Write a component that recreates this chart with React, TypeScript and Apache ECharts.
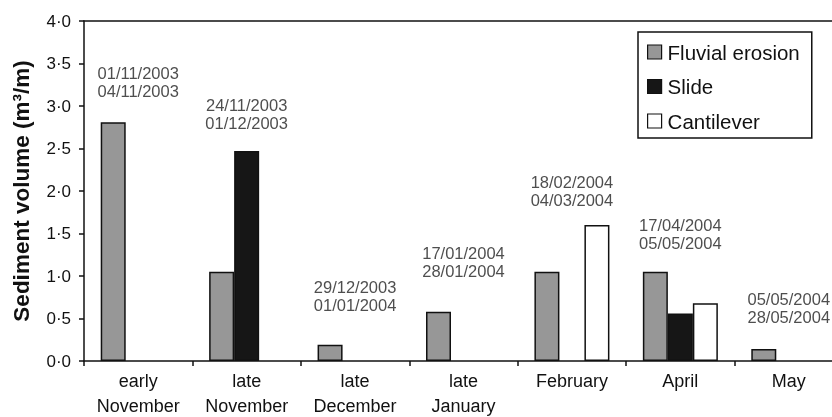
import React, { useEffect, useRef } from "react";
import * as echarts from "echarts";

// Sampling periods along the x axis
const categories = [
  "early\nNovember",
  "late\nNovember",
  "late\nDecember",
  "late\nJanuary",
  "February",
  "April",
  "May",
];

// Sediment volume (m³/m) per failure mechanism; null = no event
const fluvialErosion = [2.81, 1.05, 0.19, 0.58, 1.05, 1.05, 0.14];
const slide = [null, 2.47, null, null, null, 0.56, null];
const cantilever = [null, null, null, null, 1.6, 0.68, null];

// Survey date ranges written above each period, and the height they sit at
const periodDates = [
  "01/11/2003\n04/11/2003",
  "24/11/2003\n01/12/2003",
  "29/12/2003\n01/01/2004",
  "17/01/2004\n28/01/2004",
  "18/02/2004\n04/03/2004",
  "17/04/2004\n05/05/2004",
  "05/05/2004\n28/05/2004",
];
const dateLabelLevels = [3.28, 2.91, 0.76, 1.17, 2.0, 1.5, 0.62];

const yTicks = { min: 0, max: 4, interval: 0.5 };

const FONT = "'Liberation Sans', Arial, sans-serif";
const INK = "#111";

export default function App() {
  const ref = useRef<HTMLDivElement>(null);

  useEffect(() => {
    if (!ref.current) return;
    const chart = echarts.init(ref.current, null, { renderer: "svg" });

    const barStyle = (color: string) => ({
      color,
      borderColor: INK,
      borderWidth: 1.5,
    });

    chart.setOption({
      animation: false,
      textStyle: { fontFamily: FONT, color: INK },
      grid: { left: 84, top: 21, bottom: 56, right: -11, outerBoundsMode: "none", containLabel: false },
      legend: {
        data: ["Fluvial erosion", "Slide", "Cantilever"],
        orient: "vertical",
        left: 638,
        top: 32,
        padding: [9, 12, 6, 9],
        itemGap: 12.5,
        itemWidth: 14,
        itemHeight: 14,
        icon: "rect",
        borderColor: INK,
        borderWidth: 1.5,
        textStyle: { fontSize: 20.5, color: INK, fontFamily: FONT, lineHeight: 22, padding: [0, 0, 0, 1] },
        itemStyle: { borderColor: INK, borderWidth: 1.2 },
      },
      xAxis: [
        {
          type: "category",
          data: categories,
          boundaryGap: true,
          axisLine: { lineStyle: { color: INK, width: 1.5 } },
          axisTick: { show: true, length: 5, interval: 0, lineStyle: { color: INK, width: 1.5 } },
          axisLabel: {
            interval: 0,
            fontSize: 18,
            color: INK,
            fontFamily: FONT,
            lineHeight: 25,
            margin: 7,
          },
        },
        {
          type: "category",
          position: "top",
          data: categories,
          axisLine: { show: true, lineStyle: { color: INK, width: 1.5 } },
          axisTick: { show: false },
          axisLabel: { show: false },
        },
      ],
      yAxis: {
        type: "value",
        min: yTicks.min,
        max: yTicks.max,
        interval: yTicks.interval,
        name: "Sediment volume (m³/m)",
        nameLocation: "middle",
        nameGap: 51,
        nameTextStyle: { fontSize: 22.5, fontWeight: "bold", color: INK, fontFamily: FONT },
        axisLine: { show: true, lineStyle: { color: INK, width: 1.5 } },
        axisTick: { show: true, length: 5, lineStyle: { color: INK, width: 1.5 } },
        splitLine: { show: false },
        axisLabel: {
          fontSize: 17,
          color: INK,
          fontFamily: FONT,
          margin: 13,
          formatter: (v: number) => v.toFixed(1).replace(".", "·"),
        },
      },
      series: [
        {
          name: "Fluvial erosion",
          type: "bar",
          data: fluvialErosion,
          barWidth: 25,
          barGap: "0%",
          itemStyle: barStyle("#979797"),
        },
        {
          name: "Slide",
          type: "bar",
          data: slide,
          barWidth: 25,
          barGap: "0%",
          itemStyle: barStyle("#161616"),
        },
        {
          name: "Cantilever",
          type: "bar",
          data: cantilever,
          barWidth: 25,
          barGap: "0%",
          itemStyle: barStyle("#ffffff"),
        },
        {
          name: "dates",
          type: "scatter",
          data: dateLabelLevels,
          symbolSize: 0,
          silent: true,
          label: {
            show: true,
            position: "inside",
            formatter: (p: any) => periodDates[p.dataIndex],
            fontSize: 16.5,
            lineHeight: 18,
            color: "#222",
            fontFamily: FONT,
          },
        },
      ],
    });

    return () => chart.dispose();
  }, []);

  return (
    <div style={{ position: "fixed", left: 0, top: 0, width: 832, height: 417, overflow: "hidden" }}>
      <div ref={ref} style={{ width: 832, height: 417 }} />
    </div>
  );
}
